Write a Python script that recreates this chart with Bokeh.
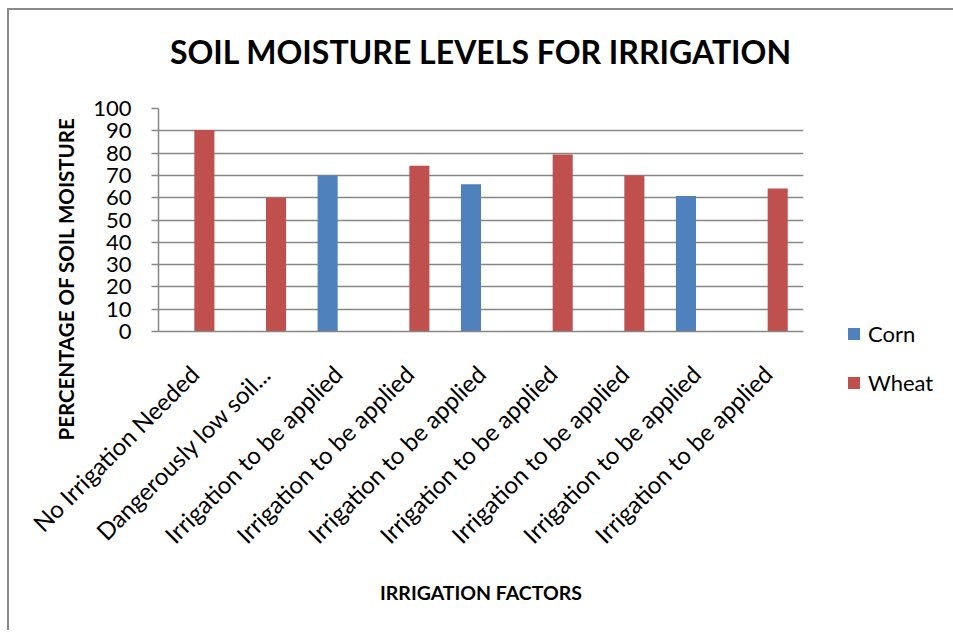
import math
import numpy as np
from bokeh.plotting import figure
from bokeh.models import ColumnDataSource, FixedTicker, Legend, LegendItem, Range1d, LinearAxis, Title
from bokeh.embed import file_html
from bokeh.resources import INLINE

categories = [
    "No Irrigation Needed",
    "Dangerously low soil...",
    "Irrigation to be applied",
    "Irrigation to be applied",
    "Irrigation to be applied",
    "Irrigation to be applied",
    "Irrigation to be applied",
    "Irrigation to be applied",
    "Irrigation to be applied",
]
corn = [np.nan, np.nan, 70, np.nan, 66, np.nan, np.nan, 60.8, np.nan]
wheat = [90.4, 60, np.nan, 74.3, np.nan, 79.4, 70, np.nan, 64.1]
y_ticks = [0, 10, 20, 30, 40, 50, 60, 70, 80, 90, 100]

FONT = "Lato"
GRID = "#868686"
CORN_C = "#4F81BD"
WHEAT_C = "#C0504D"

W, H = 944, 620

centers = [i + 0.5 for i in range(len(categories))]
bar_w = 0.28

src = ColumnDataSource(dict(
    x_corn=[c - bar_w / 2 for c in centers],
    x_wheat=[c + bar_w / 2 for c in centers],
    corn=corn,
    wheat=wheat,
))

p = figure(width=W, height=H, output_backend="svg", toolbar_location=None,
           x_range=Range1d(0, len(categories)), y_range=Range1d(0, 100))
p.min_border_left = 149
p.min_border_right = 150
p.min_border_top = 98
p.min_border_bottom = 299
p.frame_width = 645
p.frame_height = 223
p.outline_line_color = None
p.background_fill_color = "white"
p.border_fill_color = "white"
p.styles = {"margin-left": "7px", "margin-top": "8px",
            "border-top": "2px solid #8a8a8a", "border-left": "2px solid #8a8a8a"}

r_corn = p.vbar(x="x_corn", top="corn", width=bar_w, bottom=0,
                source=src, fill_color=CORN_C, line_color=None)
r_wheat = p.vbar(x="x_wheat", top="wheat", width=bar_w, bottom=0,
                 source=src, fill_color=WHEAT_C, line_color=None)

# y axis
ya = p.yaxis[0]
ya.ticker = FixedTicker(ticks=y_ticks)
ya.axis_line_color = GRID
ya.axis_line_width = 1.5
ya.major_tick_line_color = GRID
ya.major_tick_line_width = 1.5
ya.major_tick_out = 7
ya.major_tick_in = 0
ya.minor_tick_line_color = None
ya.major_label_text_font = FONT
ya.major_label_text_font_size = "22px"
ya.major_label_text_color = "black"
ya.major_label_standoff = 20

# x axis (bottom) - grab it before adding any other axis
xa = p.below[0]
xa.ticker = FixedTicker(ticks=centers)
xa.major_label_overrides = {c: lab for c, lab in zip(centers, categories)}
xa.major_label_orientation = math.pi / 4
xa.axis_line_color = GRID
xa.axis_line_width = 1.5
xa.major_tick_line_color = None
xa.minor_tick_line_color = None
xa.major_label_text_font = FONT
xa.major_label_text_font_size = "24px"
xa.major_label_text_color = "black"
xa.major_label_standoff = 32
xa.axis_label = "IRRIGATION FACTORS"
xa.axis_label_text_font = FONT
xa.axis_label_text_font_size = "19.5px"
xa.axis_label_text_font_style = "bold"
xa.axis_label_text_color = "black"
xa.axis_label_standoff = 19

# y title, placed lower than the frame centre as in the original
ytitle = Title(text="PERCENTAGE OF SOIL MOISTURE", align="left", offset=-109,
               text_font=FONT, text_font_size="20.5px", text_font_style="bold",
               text_color="black", standoff=25)
p.add_layout(ytitle, "left")

# chart title carried by an invisible top axis
top_axis = LinearAxis(ticker=FixedTicker(ticks=[]), axis_line_color=None,
                      major_tick_line_color=None, minor_tick_line_color=None,
                      major_tick_out=0, major_tick_in=0,
                      major_label_text_font_size="0px",
                      axis_label="SOIL MOISTURE LEVELS FOR IRRIGATION",
                      axis_label_text_font=FONT, axis_label_text_font_size="32px",
                      axis_label_text_font_style="bold", axis_label_text_color="black",
                      axis_label_standoff=38)
p.add_layout(top_axis, "above")

p.xgrid.grid_line_color = None
p.ygrid.ticker = FixedTicker(ticks=y_ticks)
p.ygrid.grid_line_color = GRID
p.ygrid.grid_line_width = 1.5

legend = Legend(items=[LegendItem(label="Corn", renderers=[r_corn]),
                       LegendItem(label="Wheat", renderers=[r_wheat])],
                location=(43, -65))
legend.border_line_color = None
legend.background_fill_alpha = 0
legend.label_text_font = FONT
legend.label_text_font_size = "22px"
legend.label_text_color = "black"
legend.glyph_width = 15
legend.glyph_height = 15
legend.label_standoff = 7
legend.spacing = 22
legend.padding = 0
legend.margin = 0
p.add_layout(legend, "right")

open("out.html", "w").write(file_html(p, INLINE))
